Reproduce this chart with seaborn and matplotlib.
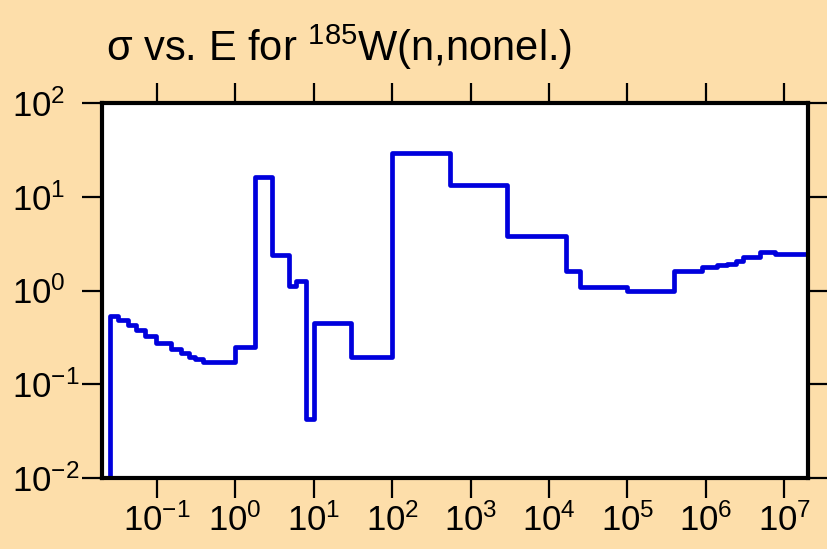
import pandas as pd
import matplotlib.pyplot as plt
import seaborn as sns

# --- Chart data: group boundaries (eV) and the cross section in each group (b) ---
energy_edges = [0.025, 0.032, 0.043, 0.055, 0.070, 0.099, 0.15, 0.206, 0.26, 0.31,
                0.39, 1.0, 1.77, 2.96, 4.8, 6.0, 8.0, 10.0, 30.0, 100.0,
                546.0, 2950.0, 16600.0, 24800.0, 1.0e5, 3.9e5, 9.0e5, 1.38e6, 1.84e6, 2.4e6,
                2.95e6, 4.9e6, 7.6e6, 2.0e7]
sigma_values = [0.54, 0.49, 0.43, 0.38, 0.33, 0.277, 0.24, 0.214, 0.197, 0.185,
                0.174, 0.25, 16.3, 2.4, 1.11, 1.26, 0.043, 0.445, 0.195, 29.5,
                13.2, 3.78, 1.63, 1.08, 1.0, 1.6, 1.79, 1.85, 1.94, 2.08,
                2.3, 2.55, 2.45]
x_tick_exponents = [-1, 0, 1, 2, 3, 4, 5, 6, 7]
y_tick_exponents = [-2, -1, 0, 1, 2]
title_text = "σ vs. E for $^{185}$W(n,nonel.)"

BG_COLOR = "#FDDEAA"
LINE_COLOR = "#0000DD"

sns.set_style("white", {"xtick.bottom": True, "ytick.left": True})
plt.rcParams["font.family"] = ["Liberation Sans", "DejaVu Sans"]
plt.rcParams["mathtext.fontset"] = "custom"
plt.rcParams["mathtext.rm"] = "Liberation Sans"
plt.rcParams["mathtext.it"] = "Liberation Sans"
plt.rcParams["mathtext.default"] = "regular"
plt.rcParams["text.color"] = "black"
plt.rcParams["xtick.color"] = "black"
plt.rcParams["ytick.color"] = "black"

# build the outline: start and end at the bottom of the plot
y_floor = 10.0 ** y_tick_exponents[0]
df = pd.DataFrame({
    "E": [energy_edges[0]] + energy_edges + [energy_edges[-1]],
    "sigma": [y_floor] + sigma_values + [sigma_values[-1], y_floor],
})

fig = plt.figure(figsize=(8.27, 5.49), dpi=100, facecolor=BG_COLOR)
ax = fig.add_axes([102 / 827, 1 - 478 / 549, 706 / 827, 375 / 549])
ax.set_facecolor("white")

sns.lineplot(data=df, x="E", y="sigma", sort=False, estimator=None,
             drawstyle="steps-post", color=LINE_COLOR, linewidth=3.4, ax=ax)

ax.set_xscale("log")
ax.set_yscale("log")
ax.set_xlim(0.02, 2.0e7)
ax.set_ylim(10.0 ** y_tick_exponents[0], 10.0 ** y_tick_exponents[-1])

ax.set_xticks([10.0 ** k for k in x_tick_exponents])
ax.set_xticklabels(["$10^{%d}$" % k for k in x_tick_exponents])
ax.set_yticks([10.0 ** k for k in y_tick_exponents])
ax.set_yticklabels(["$10^{%d}$" % k for k in y_tick_exponents])
ax.minorticks_off()

ax.tick_params(axis="both", which="major", direction="out", length=14.5, width=1.6,
               color="black", labelcolor="black", labelsize=25,
               top=True, right=True, bottom=True, left=True,
               labeltop=False, labelright=False, labelbottom=True, labelleft=True)
ax.tick_params(axis="x", pad=4)
ax.tick_params(axis="y", pad=50)
for lbl in ax.get_yticklabels():
    lbl.set_horizontalalignment("left")

for side in ["left", "right", "top", "bottom"]:
    ax.spines[side].set_visible(True)
    ax.spines[side].set_color("black")
    ax.spines[side].set_linewidth(3)

ax.set_xlabel("")
ax.set_ylabel("")

fig.text(106 / 827, 1 - 61 / 549, title_text, fontsize=30, color="black",
         ha="left", va="baseline")

fig.savefig("out.png", dpi=100, facecolor=fig.get_facecolor())
plt.close()
